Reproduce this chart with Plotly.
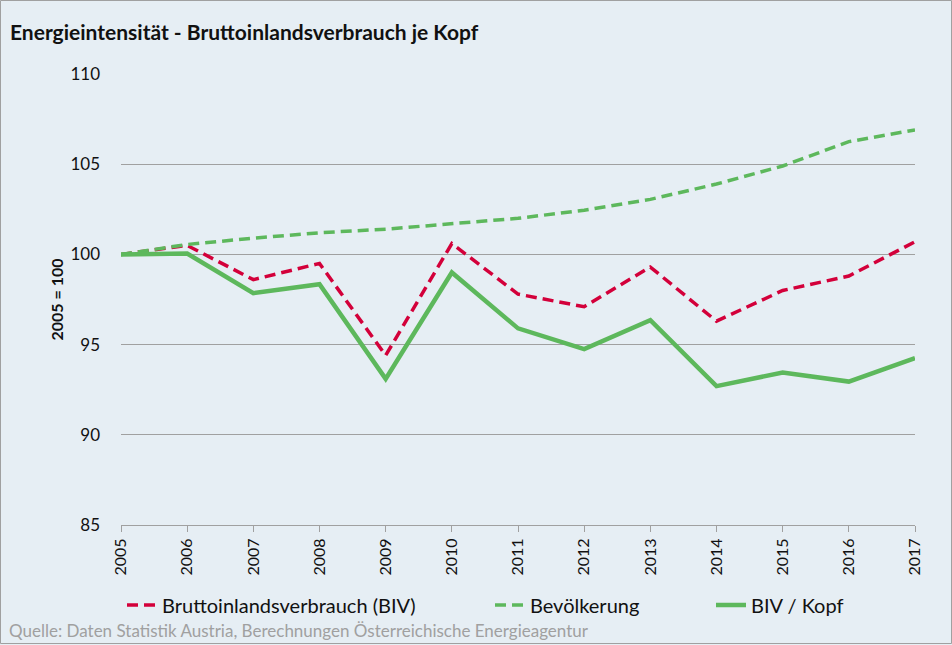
import plotly.graph_objects as go

years = list(range(2005, 2018))
biv = [100.0, 100.5, 98.6, 99.5, 94.4, 100.6, 97.8, 97.1, 99.3, 96.3, 98.0, 98.8, 100.7]
bevoelkerung = [100.0, 100.55, 100.9, 101.2, 101.4, 101.7, 102.0, 102.45, 103.05, 103.9, 104.9, 106.25, 106.9]
biv_kopf = [100.0, 100.05, 97.85, 98.35, 93.1, 99.0, 95.9, 94.75, 96.35, 92.7, 93.45, 92.95, 94.25]
y_ticks = [85, 90, 95, 100, 105, 110]

RED = "#d3003a"
GREEN = "#5db85c"
BG = "#e6eef4"
FONT = "Lato"

W, H = 952, 645
L, R, T, B = 121, 37, 74, 120
PW, PH = W - L - R, H - T - B

def px(x):
    return (x - L) / PW

def py(y):
    return (H - B - y) / PH

fig = go.Figure()
fig.add_trace(go.Scatter(x=years, y=biv, mode="lines", name="Bruttoinlandsverbrauch (BIV)",
                         line=dict(color=RED, width=3.5, dash="11px,6px"), legend="legend"))
fig.add_trace(go.Scatter(x=years, y=bevoelkerung, mode="lines", name="Bevölkerung",
                         line=dict(color=GREEN, width=3.5, dash="11px,6px"), legend="legend2"))
fig.add_trace(go.Scatter(x=years, y=biv_kopf, mode="lines", name="BIV / Kopf",
                         line=dict(color=GREEN, width=4.5), legend="legend3"))

leg_common = dict(orientation="h", xanchor="left", yanchor="middle", bgcolor="rgba(0,0,0,0)",
                  font=dict(family=FONT, size=20, color="#111111"), itemwidth=30,
                  tracegroupgap=0)

fig.update_layout(
    width=W, height=H,
    paper_bgcolor=BG, plot_bgcolor=BG,
    margin=dict(l=L, r=R, t=T, b=B),
    title=dict(text="<b>Energieintensität - Bruttoinlandsverbrauch je Kopf</b>",
               x=10 / W, xref="container", xanchor="left",
               y=1 - 33 / H, yref="container", yanchor="middle",
               font=dict(family=FONT, size=21, color="#111111")),
    xaxis=dict(range=[2005, 2017], tickmode="array", tickvals=years,
               ticktext=[str(y) for y in years], tickangle=-90,
               showgrid=False, zeroline=False, showline=True, linecolor="#a0a0a0", linewidth=1,
               ticks="outside", ticklen=6, tickcolor="#a0a0a0",
               tickfont=dict(family=FONT, size=16, color="#111111")),
    yaxis=dict(range=[85, 110], tickmode="array", tickvals=y_ticks,
               showgrid=True, gridcolor="#a0a0a0", gridwidth=1, zeroline=False, showline=False,
               ticks="", ticklabelstandoff=20,
               tickfont=dict(family=FONT, size=17, color="#111111"),
               title=dict(text="<b>2005 = 100</b>", standoff=2,
                          font=dict(family=FONT, size=16, color="#111111"))),
    legend=dict(x=px(122), y=py(605), **leg_common),
    legend2=dict(x=px(490), y=py(605), **leg_common),
    legend3=dict(x=px(711), y=py(605), **leg_common),
    showlegend=True,
    annotations=[dict(text="Quelle: Daten Statistik Austria, Berechnungen Österreichische Energieagentur",
                      xref="paper", yref="paper", x=px(7), y=py(630), xanchor="left", yanchor="middle",
                      showarrow=False, font=dict(family=FONT, size=17, color="#a0a0a0"))],
    shapes=[dict(type="rect", xref="paper", yref="paper",
                 x0=px(0.5), x1=px(W - 0.5), y0=py(H - 1.5), y1=py(0.5),
                 line=dict(color="#a0a0a0", width=1), fillcolor="rgba(0,0,0,0)", layer="below")],
)

fig.write_html("out.html", config={"displayModeBar": False},
               post_script="document.body.style.margin='0px';document.body.style.overflow='hidden';")
